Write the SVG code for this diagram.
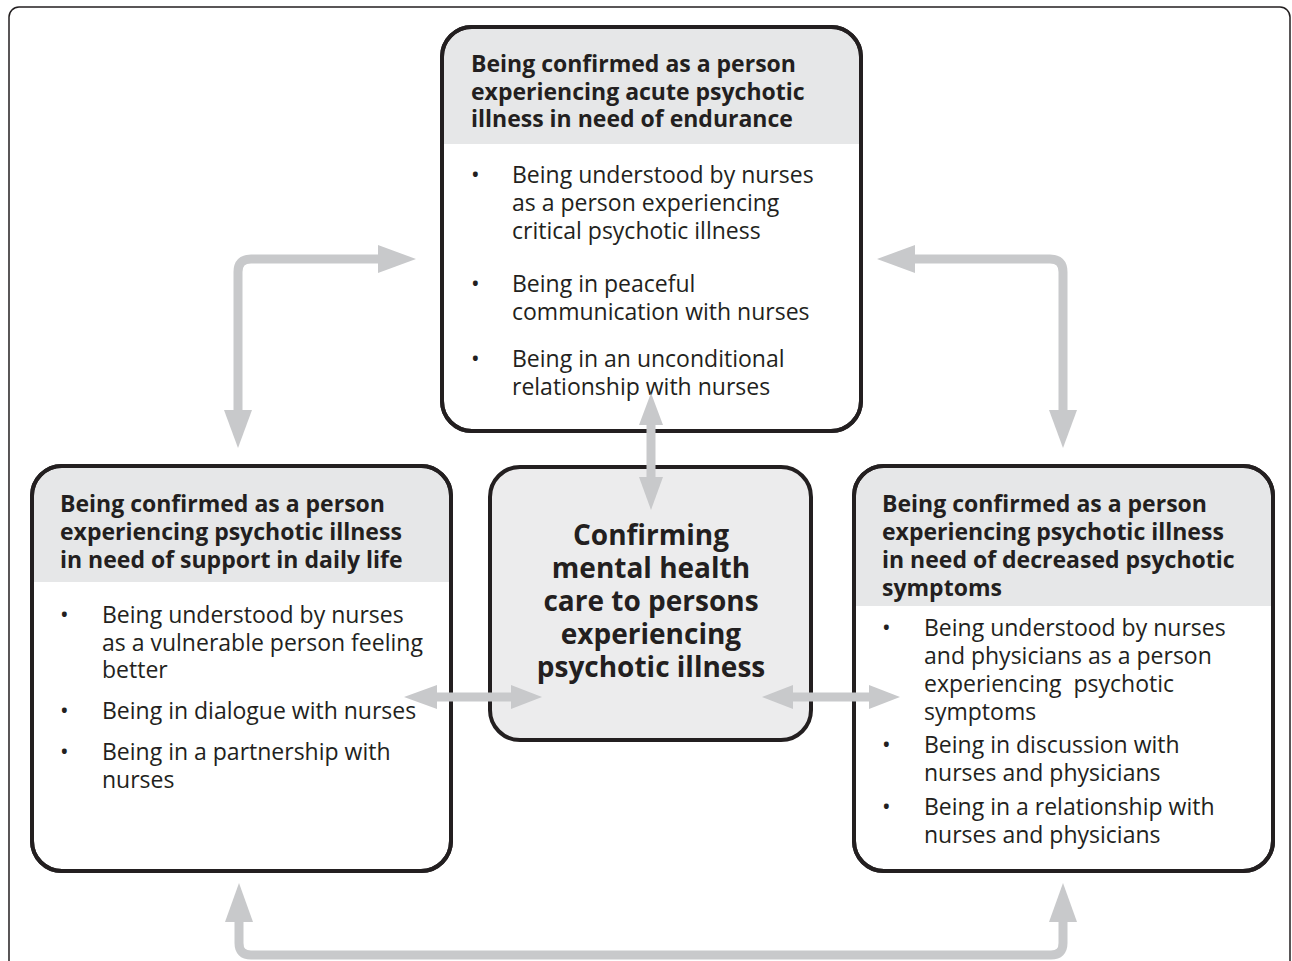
<svg xmlns="http://www.w3.org/2000/svg" width="1292" height="961" viewBox="0 0 1292 961">
<style>
.frame{fill:#fff;stroke:#231f20;stroke-width:1.5}
.box{fill:#fff;stroke:#231f20;stroke-width:4}
.hdr{fill:#e6e7e8}
.cbox{fill:#ececed;stroke:#231f20;stroke-width:4}
.h{font-family:"Open Sans","Liberation Sans",sans-serif;font-weight:bold;font-size:23px;fill:#231f20}
.t{font-family:"Open Sans","Liberation Sans",sans-serif;font-size:23px;fill:#231f20;white-space:pre}
.c{font-family:"Open Sans","Liberation Sans",sans-serif;font-weight:bold;font-size:28px;fill:#231f20;text-anchor:middle}
.ln{fill:none;stroke:#c8c9cb;stroke-width:9}
.hd{fill:#c8c9cb}
</style>
<rect class="frame" x="9" y="7" width="1281" height="1000" rx="10"/>
<g id="node-top">
<rect class="box" x="442" y="27" width="419" height="404" rx="30" fill="#fff"/>
<path class="hdr" d="M444,144 V57 A28,28 0 0 1 472,29 H831 A28,28 0 0 1 859,57 V144 Z"/>
<rect x="442" y="27" width="419" height="404" rx="30" fill="none" stroke="#231f20" stroke-width="4"/>
<text class="h"><tspan x="471" y="72">Being confirmed as a person</tspan><tspan x="471" y="99.5">experiencing acute psychotic</tspan><tspan x="471" y="127">illness in need of endurance</tspan></text>
<text class="t"><tspan x="471" y="183">•</tspan><tspan x="512" y="183">Being understood by nurses</tspan><tspan x="512" y="211">as a person experiencing</tspan><tspan x="512" y="239">critical psychotic illness</tspan><tspan x="471" y="292">•</tspan><tspan x="512" y="292">Being in peaceful</tspan><tspan x="512" y="320">communication with nurses</tspan><tspan x="471" y="367">•</tspan><tspan x="512" y="367">Being in an unconditional</tspan><tspan x="512" y="395">relationship with nurses</tspan></text>
</g>
<g id="node-left">
<rect class="box" x="32" y="466" width="419" height="405" rx="30"/>
<path class="hdr" d="M34,582 V496 A28,28 0 0 1 62,468 H421 A28,28 0 0 1 449,496 V582 Z"/>
<rect x="32" y="466" width="419" height="405" rx="30" fill="none" stroke="#231f20" stroke-width="4"/>
<text class="h"><tspan x="60" y="512">Being confirmed as a person</tspan><tspan x="60" y="540">experiencing psychotic illness</tspan><tspan x="60" y="568">in need of support in daily life</tspan></text>
<text class="t"><tspan x="60" y="623">•</tspan><tspan x="102" y="623">Being understood by nurses</tspan><tspan x="102" y="651">as a vulnerable person feeling</tspan><tspan x="102" y="678">better</tspan><tspan x="60" y="719">•</tspan><tspan x="102" y="719">Being in dialogue with nurses</tspan><tspan x="60" y="760">•</tspan><tspan x="102" y="760">Being in a partnership with</tspan><tspan x="102" y="788">nurses</tspan></text>
</g>
<g id="node-center">
<rect class="cbox" x="490" y="467" width="321" height="273" rx="30"/>
<text class="c"><tspan x="651" y="545">Confirming</tspan><tspan x="651" y="578">mental health</tspan><tspan x="651" y="611">care to persons</tspan><tspan x="651" y="644">experiencing</tspan><tspan x="651" y="677">psychotic illness</tspan></text>
</g>
<g id="node-right">
<rect class="box" x="854" y="466" width="419" height="405" rx="30"/>
<path class="hdr" d="M856,606 V496 A28,28 0 0 1 884,468 H1243 A28,28 0 0 1 1271,496 V606 Z"/>
<rect x="854" y="466" width="419" height="405" rx="30" fill="none" stroke="#231f20" stroke-width="4"/>
<text class="h"><tspan x="882" y="512">Being confirmed as a person</tspan><tspan x="882" y="540">experiencing psychotic illness</tspan><tspan x="882" y="568">in need of decreased psychotic</tspan><tspan x="882" y="596">symptoms</tspan></text>
<text class="t"><tspan x="882" y="636">•</tspan><tspan x="924" y="636">Being understood by nurses</tspan><tspan x="924" y="664">and physicians as a person</tspan><tspan x="924" y="692">experiencing  psychotic</tspan><tspan x="924" y="720">symptoms</tspan><tspan x="882" y="753">•</tspan><tspan x="924" y="753">Being in discussion with</tspan><tspan x="924" y="781">nurses and physicians</tspan><tspan x="882" y="815">•</tspan><tspan x="924" y="815">Being in a relationship with</tspan><tspan x="924" y="843">nurses and physicians</tspan></text>
</g>
<g id="connectors">
<path class="ln" d="M238,410 V272 Q238,259 251,259 H380"/>
<polygon class="hd" points="378,245 416,259 378,273"/>
<polygon class="hd" points="224,410 252,410 238,448"/>
<path class="ln" d="M1063,410 V272 Q1063,259 1050,259 H915"/>
<polygon class="hd" points="915,245 877,259 915,273"/>
<polygon class="hd" points="1049,410 1077,410 1063,448"/>
<path class="ln" d="M239,920 V943 Q239,955 251,955 H1051 Q1063,955 1063,943 V920"/>
<polygon class="hd" points="225,922 253,922 239,883"/>
<polygon class="hd" points="1049,922 1077,922 1063,883"/>
<line class="ln" x1="651" y1="423" x2="651" y2="479"/>
<polygon class="hd" points="639,425 663,425 651,393"/>
<polygon class="hd" points="639,477 663,477 651,510"/>
<line class="ln" x1="435" y1="697" x2="513" y2="697"/>
<polygon class="hd" points="437,685 437,709 404,697"/>
<polygon class="hd" points="511,685 511,709 542,697"/>
<line class="ln" x1="791" y1="697" x2="871" y2="697"/>
<polygon class="hd" points="793,685 793,709 762,697"/>
<polygon class="hd" points="869,685 869,709 900,697"/>
</g>
</svg>
